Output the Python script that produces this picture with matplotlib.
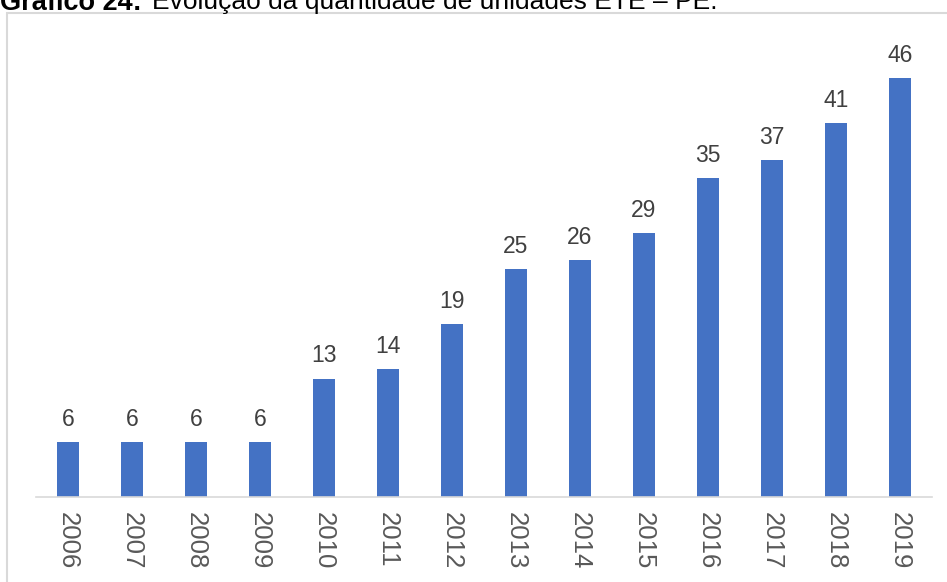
import matplotlib
matplotlib.use("Agg")
import matplotlib.pyplot as plt
from matplotlib.patches import Rectangle

years = ["2006", "2007", "2008", "2009", "2010", "2011", "2012",
         "2013", "2014", "2015", "2016", "2017", "2018", "2019"]
units = [6, 6, 6, 6, 13, 14, 19, 25, 26, 29, 35, 37, 41, 46]

W, H = 947, 582
plt.rcParams["font.family"] = ["Liberation Sans", "DejaVu Sans"]

fig = plt.figure(figsize=(W / 100, H / 100), dpi=100)

# outer chart frame (cut by image edges on right/bottom)
fig.patches.append(Rectangle((7 / W, -0.1), 1.2, 1 - 12.5 / H + 0.1, transform=fig.transFigure,
                             fill=False, edgecolor="#d9d9d9", lw=1.5))

# caption, clipped at top of image
y_cap = 1 - 9.5 / H
fig.text(0.0, y_cap, "Gráfico 24:", fontsize=19.5, weight="bold", va="baseline", ha="left", color="black")
fig.text(152 / W, y_cap, "Evolução da quantidade de unidades ETE – PE.", fontsize=19,
         va="baseline", ha="left", color="black")

ax = fig.add_axes([36 / W, (H - 497) / H, 896 / W, 455.5 / H])
x = list(range(len(years)))
ax.bar(x, units, width=0.33, color="#4472C4")
for xi, v in zip(x, units):
    ax.annotate(str(v), (xi, v), xytext=(0, 8), textcoords="offset points",
                ha="center", va="bottom", fontsize=16.5, color="#404040")

ax.set_xlim(-0.5, 13.5)
ax.set_ylim(0, 50)
ax.set_xticks(x)
ax.set_xticklabels(years, rotation=270, fontsize=18.5, color="#595959")
ax.tick_params(axis="x", length=0, pad=11)
ax.set_yticks([])
for s in ("top", "right", "left"):
    ax.spines[s].set_visible(False)
ax.spines["bottom"].set_color("#d9d9d9")
ax.spines["bottom"].set_linewidth(1.2)

fig.savefig("out.png", dpi=100)
